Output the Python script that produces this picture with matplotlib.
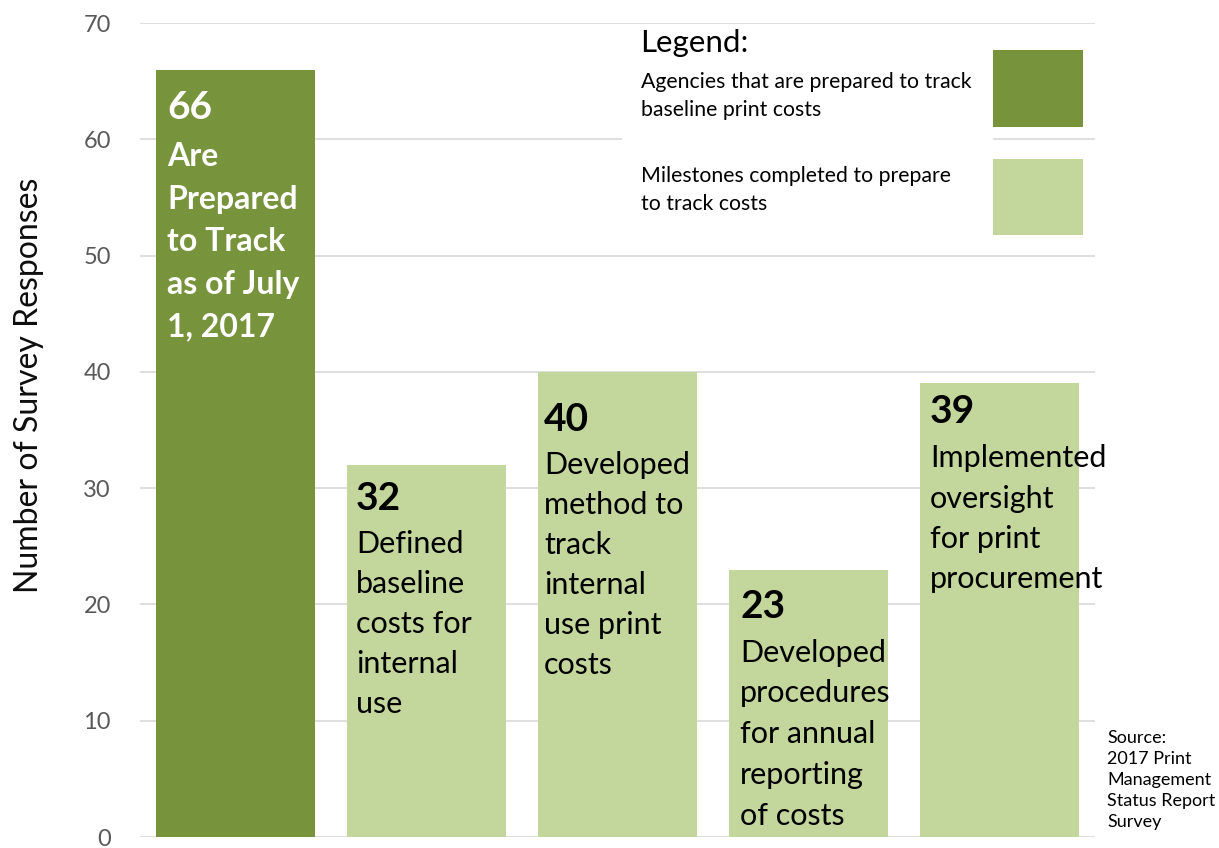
import matplotlib
matplotlib.use("Agg")
import matplotlib.pyplot as plt
from matplotlib.patches import Rectangle

# ---------------- data ----------------
categories = ["Prepared to track", "Defined baseline costs", "Developed method",
              "Developed procedures", "Implemented oversight"]
values = [66, 32, 40, 23, 39]
bar_kinds = ["prepared", "milestone", "milestone", "milestone", "milestone"]
bar_texts = [
    ["Are", "Prepared", "to Track", "as of July", "1, 2017"],
    ["Defined", "baseline", "costs for", "internal", "use"],
    ["Developed", "method to", "track", "internal", "use print", "costs"],
    ["Developed", "procedures", "for annual", "reporting", "of costs"],
    ["Implemented", "oversight", "for print", "procurement"],
]
yticks = [0, 10, 20, 30, 40, 50, 60, 70]
ylabel = "Number of Survey Responses"
legend_title = "Legend:"
legend_labels = ["Agencies that are prepared to track\nbaseline print costs",
                 "Milestones completed to prepare\nto track costs"]
source_lines = ["Source:", "2017 Print", "Management", "Status Report", "Survey"]

# ---------------- styles / layout ----------------
DARK = "#77933C"
LIGHT = "#C3D69B"
colors = {"prepared": DARK, "milestone": LIGHT}
FONT = "Lato"
W, H = 1219, 848
PX = 0.72  # points per pixel at dpi 100

# text offsets inside bars (pixels from bar top-left)
num_base_px = [49.5, 45, 59, 48, 40]
body_base_px = [96.5, 88, 102, 92, 84]
line_px = [42.5, 40, 40, 40.75, 40.3]
xoff_px = [11, 9, 6, 11, 10]

plt.rcParams["font.family"] = [FONT, "DejaVu Sans"]

fig = plt.figure(figsize=(W / 100, H / 100), dpi=100)
y0_px, y70_px = 837, 23
x0_px, x1_px = 140, 1095
ax = fig.add_axes([x0_px / W, (H - y0_px) / H, (x1_px - x0_px) / W, (y0_px - y70_px) / H])

xs = list(range(len(values)))
width = 0.832
bar_colors = [colors[k] for k in bar_kinds]
bars = ax.bar(xs, values, width=width, color=bar_colors, zorder=2, linewidth=0)

ax.set_xlim(-0.5, len(values) - 0.5)
ax.set_ylim(0, 70)
ax.set_yticks(yticks)
ax.set_xticks([])
ax.grid(axis="y", color="#D9D9D9", linewidth=1.2, zorder=0)
ax.set_axisbelow(True)
for s in ax.spines.values():
    s.set_visible(False)
ax.tick_params(axis="y", length=0, pad=21, labelsize=17, labelcolor="#595959")

fig.text(29 / W, 1 - 385 / H, ylabel, rotation=90, ha="center", va="center",
         fontsize=23, color="#0D0D0D")

for i, (b, v, kind, lines) in enumerate(zip(bars, values, bar_kinds, bar_texts)):
    left = b.get_x()
    is_dark = kind == "prepared"
    tc = "white" if is_dark else "black"
    ax.annotate(str(v), xy=(left, v), xytext=(xoff_px[i] * PX, -num_base_px[i] * PX),
                textcoords="offset points", ha="left", va="baseline",
                fontsize=28, fontweight="bold", color=tc, zorder=3,
                annotation_clip=False)
    for k, line in enumerate(lines):
        ax.annotate(line, xy=(left, v),
                    xytext=(xoff_px[i] * PX, -(body_base_px[i] + k * line_px[i]) * PX),
                    textcoords="offset points", ha="left", va="baseline",
                    fontsize=23 if is_dark else 22,
                    fontweight="bold" if is_dark else "normal",
                    color=tc, zorder=3, annotation_clip=False)

# ---------------- legend (manual) ----------------
def fx(px):
    return px / W

def fy(py):
    return 1 - py / H

fig.add_artist(Rectangle((fx(622), fy(245)), fx(993) - fx(622), fy(28) - fy(245),
                         transform=fig.transFigure, facecolor="white",
                         edgecolor="none", zorder=4))
fig.text(fx(640), fy(52), legend_title, ha="left", va="baseline",
         fontsize=22.5, color="black", zorder=5)
box_y = [(50, 127), (159, 235)]
text_base = [88, 182]
for (ya, yb), tb, lab, col in zip(box_y, text_base, legend_labels, [DARK, LIGHT]):
    fig.add_artist(Rectangle((fx(993), fy(yb)), fx(1083) - fx(993), fy(ya) - fy(yb),
                             transform=fig.transFigure, facecolor=col,
                             edgecolor="none", zorder=5))
    for k, l in enumerate(lab.split("\n")):
        fig.text(fx(641), fy(tb + k * 28), l, ha="left", va="baseline",
                 fontsize=15.3, color="black", zorder=6)

# ---------------- source ----------------
for k, l in enumerate(source_lines):
    fig.text(fx(1107), fy(743 + k * 21), l, ha="left", va="baseline",
             fontsize=13, color="black")

fig.savefig("out.png", dpi=100)
